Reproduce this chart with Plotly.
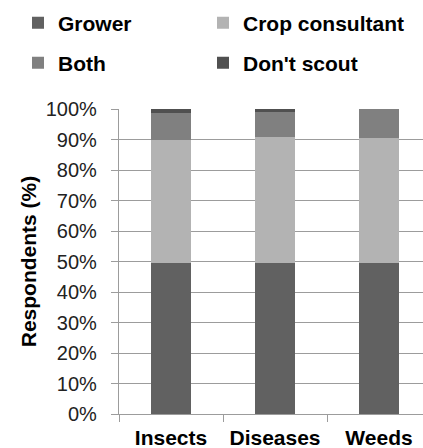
import plotly.graph_objects as go

categories = ["Insects", "Diseases", "Weeds"]
grower = [49.5, 49.5, 49.5]
crop_consultant = [40.2, 41.3, 40.9]
both = [8.9, 8.1, 9.6]
dont_scout = [1.4, 1.1, 0.0]
y_ticks = [0, 10, 20, 30, 40, 50, 60, 70, 80, 90, 100]
y_tick_labels = [f"{v}%" for v in y_ticks]

W, H = 423, 448
FONT = "Liberation Sans, Arial, sans-serif"

series = [
    ("Grower", grower, "#616161", "legend"),
    ("Crop consultant", crop_consultant, "#b3b3b3", "legend2"),
    ("Both", both, "#808080", "legend3"),
    ("Don't scout", dont_scout, "#505050", "legend4"),
]

fig = go.Figure()
for name, vals, color, lg in series:
    fig.add_trace(go.Bar(
        x=categories, y=vals, name=name, width=0.39,
        marker=dict(color=color, line=dict(width=0)),
        legend=lg,
    ))

# legend item positions (container px): left x, row center y
leg_pos = {"legend": (18, 23), "legend2": (203, 23), "legend3": (18, 63), "legend4": (203, 63)}
legends = {}
for key, (px, py) in leg_pos.items():
    legends[key] = dict(
        x=px / W, y=1 - py / H, xref="container", yref="container",
        xanchor="left", yanchor="middle", orientation="h",
        bgcolor="rgba(0,0,0,0)", borderwidth=0,
        font=dict(family=FONT, size=21, color="#000000", weight="bold"),
        itemclick=False, itemdoubleclick=False,
    )

fig.update_layout(
    width=W, height=H,
    barmode="stack",
    paper_bgcolor="white", plot_bgcolor="white",
    margin=dict(l=119, r=0, t=109, b=34, pad=0),
    showlegend=True,
    **legends,
    font=dict(family=FONT, size=20, color="#000000"),
)

fig.update_xaxes(
    type="category",
    range=[-0.5, -0.5 + 304 / 104],
    tickson="boundaries",
    ticks="outside", ticklen=7, tickcolor="#9c9c9c", tickwidth=1,
    ticklabelstandoff=5,
    showline=True, linecolor="#9c9c9c", linewidth=1.3,
    showgrid=False, zeroline=False,
    tickfont=dict(family=FONT, size=21, color="#000000", weight="bold"),
    automargin=False,
)
fig.update_yaxes(
    range=[0, 100],
    tickvals=y_ticks, ticktext=y_tick_labels,
    ticks="outside", ticklen=7, tickcolor="#9c9c9c", tickwidth=1.3,
    ticklabelstandoff=10,
    showline=True, linecolor="#9c9c9c", linewidth=1.3,
    showgrid=True, gridcolor="#9c9c9c", gridwidth=1.3,
    zeroline=False,
    tickfont=dict(family=FONT, size=20, color="#222222"),
    title=dict(text="Respondents (%)", standoff=3,
               font=dict(family=FONT, size=21, color="#000000", weight="bold")),
    automargin=False,
)

fig.write_html("out.html", config={"displayModeBar": False},
               post_script="document.body.style.margin='0';")
